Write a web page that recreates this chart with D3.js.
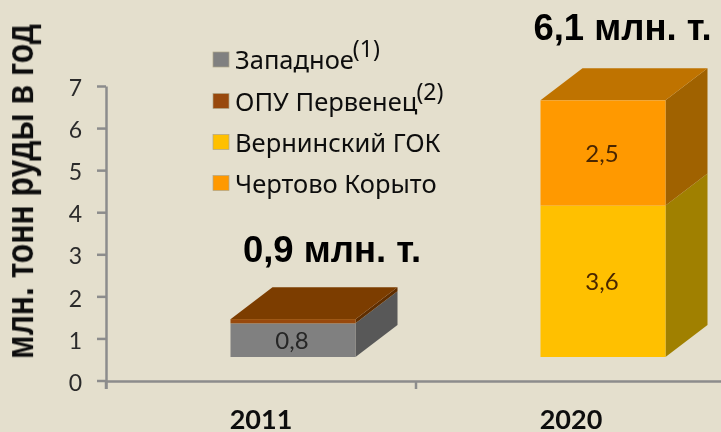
<!DOCTYPE html>
<html>
<head>
<meta charset="utf-8">
<script src="https://cdn.jsdelivr.net/npm/d3@7"></script>
<style>
  html, body { margin: 0; padding: 0; background: #e4dfcd; }
  svg { display: block; }
  .axis path, .axis line { stroke: #8c8c8c; stroke-width: 2.5px; }
  .axis text { font-family: Lato, sans-serif; fill: #2b2b2b; }
</style>
</head>
<body>
<div id="chart"></div>
<script>
const years = ['2011', '2020']
const seriesNames = ['Западное', 'ОПУ Первенец', 'Вернинский ГОК', 'Чертово Корыто']
const seriesNotes = ['(1)', '(2)', '', '']
const zapadnoe = [0.8, 0]
const pervenets = [0.1, 0]
const verninsky = [0, 3.6]
const chertovo = [0, 2.5]
const totals = [0.9, 6.1]
const yTicks = [0, 1, 2, 3, 4, 5, 6, 7]

// front, top, side
const frontColors = ['#808080', '#984807', '#ffc000', '#ff9900']
const topColors = ['#66401f', '#7c3c02', '#bf9000', '#bf7300']
const sideColors = ['#595959', '#5f2e04', '#a08000', '#a06200']

const width = 721
const height = 432
const depthX = 42
const depthY = 32
const frontShiftX = 32
const frontShiftY = 23.5
const barWidth = 125

const formatComma = v => d3.format('.1f')(v).replace('.', ',')

const rows = years.map((year, i) => ({
  year,
  s0: zapadnoe[i],
  s1: pervenets[i],
  s2: verninsky[i],
  s3: chertovo[i]
}))

const stack = d3.stack().keys(['s0', 's1', 's2', 's3'])(rows)

const x = d3.scaleBand().domain(years).range([106, 726])
const y = d3.scaleLinear().domain([0, 7]).range([380.5, 86])

const svg = d3.select('#chart').append('svg')
  .attr('width', width)
  .attr('height', height)

const defs = svg.append('defs')
defs.append('filter').attr('id', 'soft')
  .append('feGaussianBlur').attr('stdDeviation', 0.4)

const root = svg.append('g').attr('filter', 'url(#soft)')

// axes
const yAxis = root.append('g')
  .attr('class', 'axis')
  .attr('transform', 'translate(106,0)')
  .call(d3.axisLeft(y).tickValues(yTicks).tickFormat(d3.format('d')).tickSize(9).tickSizeOuter(0).tickPadding(15))
yAxis.selectAll('text')
  .attr('dy', '0.42em')
  .style('font-size', '23px')

const xAxis = root.append('g')
  .attr('class', 'axis')
  .attr('transform', 'translate(0,381)')
  .call(d3.axisBottom(x).tickValues([]).tickSizeOuter(8))
xAxis.selectAll('.boundary')
  .data(x.domain().map(d => x(d)))
  .enter().append('line')
  .attr('x1', d => d).attr('x2', d => d)
  .attr('y1', 0).attr('y2', 8)

root.selectAll('.yearLabel')
  .data(years)
  .enter().append('text')
  .attr('class', 'yearLabel')
  .attr('x', d => x(d) + x.bandwidth() / 2)
  .attr('y', 429)
  .attr('text-anchor', 'middle')
  .style('font-family', 'Lato, sans-serif')
  .style('font-weight', 700)
  .style('font-size', '27px')
  .style('fill', '#111')
  .text(d => d)

// 3d bars
const barLeft = d => x(d.data.year) + x.bandwidth() / 2 + frontShiftX - barWidth / 2
const frontY = v => y(v) - frontShiftY

const segments = stack.flatMap((s, i) => s.map(d => ({
  d,
  index: i,
  y0: frontY(d[0]),
  y1: frontY(d[1]),
  value: d[1] - d[0]
}))).filter(s => s.value > 0)

const points = arr => arr.map(p => p.join(',')).join(' ')

root.selectAll('.side')
  .data(segments)
  .enter().append('polygon')
  .attr('class', 'side')
  .attr('fill', s => sideColors[s.index])
  .attr('points', s => {
    const r = barLeft(s.d) + barWidth
    return points([[r, s.y0], [r + depthX, s.y0 - depthY], [r + depthX, s.y1 - depthY], [r, s.y1]])
  })

// only the top segment of each bar shows a lid
const lids = years.map(year => segments.filter(s => s.d.data.year === year).pop())

root.selectAll('.lid')
  .data(lids)
  .enter().append('polygon')
  .attr('class', 'lid')
  .attr('fill', s => topColors[s.index])
  .attr('points', s => {
    const l = barLeft(s.d)
    return points([[l, s.y1], [l + depthX, s.y1 - depthY], [l + barWidth + depthX, s.y1 - depthY], [l + barWidth, s.y1]])
  })

root.selectAll('.front')
  .data(segments)
  .enter().append('rect')
  .attr('class', 'front')
  .attr('x', s => barLeft(s.d))
  .attr('y', s => s.y1)
  .attr('width', barWidth)
  .attr('height', s => s.y0 - s.y1)
  .attr('fill', s => frontColors[s.index])

root.selectAll('.valueLabel')
  .data(segments.filter(s => s.value >= 0.5))
  .enter().append('text')
  .attr('class', 'valueLabel')
  .attr('x', s => barLeft(s.d) + barWidth / 2 - 1)
  .attr('y', s => (s.y0 + s.y1) / 2 + 9)
  .attr('text-anchor', 'middle')
  .style('font-family', 'Lato, sans-serif')
  .style('font-size', '24px')
  .style('fill', s => s.index < 2 ? '#262626' : '#4a2600')
  .text(s => formatComma(s.value))

// totals above bars
const totalY = [262, 40]
const totalX = [332, 622.5]
root.selectAll('.total')
  .data(totals)
  .enter().append('text')
  .attr('class', 'total')
  .attr('x', (d, i) => totalX[i])
  .attr('y', (d, i) => totalY[i])
  .attr('text-anchor', 'middle')
  .style('font-family', '"Liberation Sans", sans-serif')
  .style('font-weight', 700)
  .style('font-size', '36.5px')
  .style('fill', '#000')
  .text(d => formatComma(d) + ' млн. т.')

// y title, stretched across its height like the reference
root.append('text')
  .attr('transform', 'translate(33.5,191.5) rotate(-90) scale(1,1.2)')
  .attr('text-anchor', 'middle')
  .style('font-family', '"Liberation Sans", sans-serif')
  .style('font-weight', 700)
  .style('font-size', '31.8px')
  .style('fill', '#111')
  .text('млн. тонн руды в год')

// legend
const legendRowY = [59.5, 101, 142, 183]
const legendNoteY = [-2.5, -1, 0, 0]
const legend = root.selectAll('.legendRow')
  .data(seriesNames)
  .enter().append('g')
  .attr('class', 'legendRow')
  .attr('transform', (d, i) => `translate(213,${legendRowY[i]})`)

legend.append('rect')
  .attr('x', 0).attr('y', -7.5)
  .attr('width', 16).attr('height', 15)
  .attr('fill', (d, i) => frontColors[i])
  .attr('stroke', '#b0a78a')
  .attr('stroke-width', 0.7)

const legendText = legend.append('text')
  .attr('x', 22)
  .attr('y', 9.5)
  .style('font-family', '"Noto Sans", sans-serif')
  .style('font-size', '25.5px')
  .style('fill', '#111')
  .text(d => d)

legend.append('text')
  .attr('x', function (d, i) {
    return 22 + legendText.nodes()[i].getComputedTextLength() - 1
  })
  .attr('y', (d, i) => legendNoteY[i])
  .style('font-family', '"Noto Sans", sans-serif')
  .style('font-size', '23px')
  .style('fill', '#111')
  .text((d, i) => seriesNotes[i])
</script>
</body>
</html>
